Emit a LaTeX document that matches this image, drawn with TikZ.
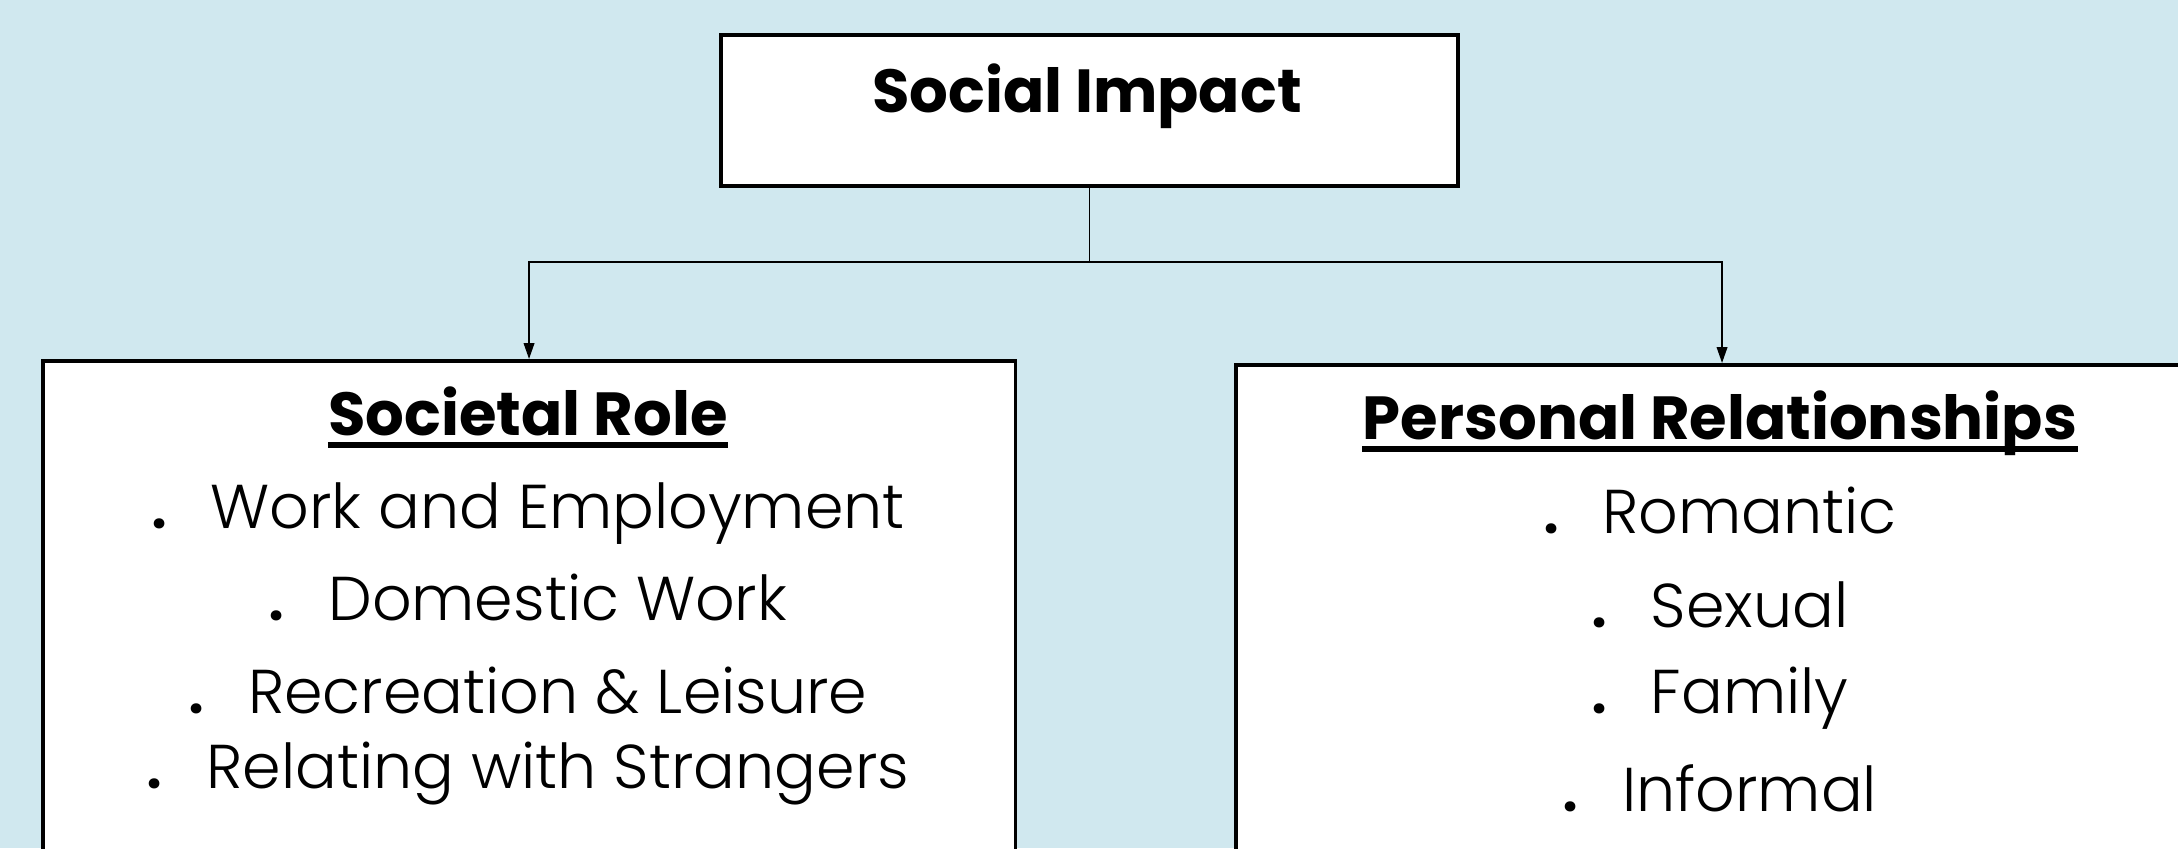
\documentclass[tikz,border=0pt]{standalone}
\usepackage{fontspec}
\setmainfont{Poppins}
\newfontfamily\thinfont{Poppins Light}
\usetikzlibrary{arrows.meta}
\definecolor{paleblue}{RGB}{208,232,239}
\newcommand{\itemdot}{\textbf{.}\hspace{0.7em}}

\begin{document}
\begin{tikzpicture}[x=0.01cm,y=-0.01cm,
        box/.style={draw,line width=1pt,fill=white,inner sep=0pt,anchor=north west},
        heading/.style={font=\fontsize{17.3}{21}\selectfont\bfseries,inner sep=0pt,anchor=base},
        entry/.style={font=\fontsize{17.6}{21}\selectfont\thinfont,inner sep=0pt,anchor=base},
        link/.style={line width=0.5pt}]
    \fill[paleblue] (0,0) rectangle (2178,848);
    \useasboundingbox (0,0) rectangle (2178,848);
    \clip (0,0) rectangle (2178,848);
    \node[box,minimum width=7.37cm,minimum height=1.51cm] (impact) at (719,33) {};
    \node[box,minimum width=9.72cm,minimum height=6cm] (role) at (41,359) {};
    \node[box,minimum width=9.72cm,minimum height=6cm] (relations) at (1234,363) {};
    \coordinate (split) at (1087,262);
    \draw[link] (impact.south) -- (impact.south |- split);
    \draw[link,-{Triangle[length=4.5pt,width=3pt]}] (split) -| (role.north);
    \draw[link,-{Triangle[length=4.5pt,width=3pt]}] (split) -| (relations.north);
    \node[heading] (impacttitle) at (1087,112) {Social Impact};
    \node[heading] (roletitle) at (528,435) {Societal Role};
    \draw[line width=1.5pt] ([yshift=-0.1cm]roletitle.base west) -- ([yshift=-0.1cm]roletitle.base east);
    \node[entry] (role1) at (528,528) {\itemdot Work and Employment};
    \node[entry] (role2) at (528,620) {\itemdot Domestic Work};
    \node[entry] (role3) at (528,713) {\itemdot Recreation \& Leisure};
    \node[entry] (role4) at (528,788) {\itemdot Relating with Strangers};
    \node[heading] (relationstitle) at (1720,439) {Personal Relationships};
    \draw[line width=1.5pt] ([yshift=-0.1cm]relationstitle.base west) -- ([yshift=-0.1cm]relationstitle.base east);
    \node[entry] (relations1) at (1720,533) {\itemdot Romantic};
    \node[entry] (relations2) at (1720,627) {\itemdot Sexual};
    \node[entry] (relations3) at (1720,713) {\itemdot Family};
    \node[entry] (relations4) at (1720,811) {\itemdot Informal};
\end{tikzpicture}
\end{document}
